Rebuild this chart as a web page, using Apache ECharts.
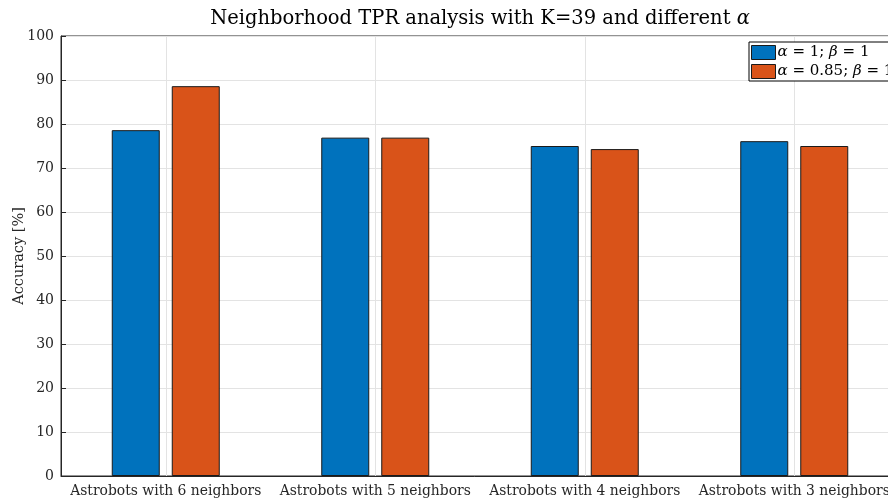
<!DOCTYPE html>
<html>
<head>
<meta charset="utf-8">
<script src="https://cdn.jsdelivr.net/npm/echarts@6/dist/echarts.min.js"></script>
<style>html,body{margin:0;padding:0;background:#fff}#c{width:888px;height:500px}</style>
</head>
<body>
<div id="c"></div>
<script>
const categories = ['Astrobots with 6 neighbors', 'Astrobots with 5 neighbors', 'Astrobots with 4 neighbors', 'Astrobots with 3 neighbors'];
const seriesNames = ['α = 1; β = 1', 'α = 0.85; β = 1'];
const legendRich = ['{i|α} = 1; {i|β} = 1', '{i|α} = 0.85; {i|β} = 1'];
const alpha1 = [78.6, 76.9, 75.0, 76.1];
const alpha085 = [88.6, 76.9, 74.3, 75.0];
const yTicks = [0, 10, 20, 30, 40, 50, 60, 70, 80, 90, 100];

const FONT = 'DejaVu Serif';
const chart = echarts.init(document.getElementById('c'), null, {renderer: 'canvas'});
chart.setOption({
  animation: false,
  backgroundColor: '#fff',
  title: {
    text: '{n|Neighborhood TPR analysis with K=39 and different }{i|α}',
    left: 475, textAlign: 'center', top: 4,
    textStyle: {
      fontWeight: 'normal',
      rich: {
        n: {fontFamily: FONT, fontSize: 19.5, color: '#000', fontWeight: 'normal'},
        i: {fontFamily: FONT, fontSize: 19.5, color: '#000', fontStyle: 'italic', fontWeight: 'normal'}
      }
    }
  },
  legend: {
    left: 749, top: 42, orient: 'vertical',
    backgroundColor: '#fff', borderColor: '#000', borderWidth: 1, borderRadius: 0,
    padding: [3, 4, 2, 2], itemGap: 4, itemWidth: 24, itemHeight: 14,
    icon: 'rect',
    itemStyle: {borderColor: '#1a1a1a', borderWidth: 1},
    formatter: function (name) { return legendRich[seriesNames.indexOf(name)]; },
    textStyle: {
      fontFamily: FONT, fontSize: 15, color: '#000', padding: [0, 0, 0, -3],
      rich: {i: {fontFamily: FONT, fontSize: 15, color: '#000', fontStyle: 'italic'}}
    },
    data: seriesNames
  },
  grid: {
    left: 61, top: 36, width: 838, height: 440,
    outerBoundsMode: 'none', containLabel: false,
    show: true, borderColor: '#262626', borderWidth: 1, backgroundColor: 'transparent'
  },
  xAxis: {
    type: 'category', data: categories,
    axisLine: {lineStyle: {color: '#262626', width: 1}},
    axisTick: {inside: true, alignWithLabel: true, length: 5, lineStyle: {color: '#262626'}},
    axisLabel: {fontFamily: FONT, fontSize: 13.9, color: '#262626', margin: 8, interval: 0, hideOverlap: false},
    splitLine: {show: true, alignWithLabel: true, lineStyle: {color: '#e3e3e3', width: 1}}
  },
  yAxis: {
    type: 'value', min: yTicks[0], max: yTicks[yTicks.length - 1], interval: 10,
    name: 'Accuracy [%]', nameLocation: 'middle', nameGap: 34, nameMoveOverlap: false,
    nameTextStyle: {fontFamily: FONT, fontSize: 14.5, color: '#262626'},
    axisLine: {show: true, lineStyle: {color: '#262626', width: 1}},
    axisTick: {show: true, inside: true, length: 5, lineStyle: {color: '#262626'}},
    axisLabel: {fontFamily: FONT, fontSize: 14, color: '#262626', margin: 7},
    splitLine: {show: true, lineStyle: {color: '#e3e3e3', width: 1}}
  },
  series: [
    {
      name: seriesNames[0], type: 'bar', data: alpha1, barWidth: 48, barGap: '25%',
      itemStyle: {color: '#0072BD', borderColor: '#1a1a1a', borderWidth: 1}
    },
    {
      name: seriesNames[1], type: 'bar', data: alpha085, barWidth: 48, barGap: '25%',
      itemStyle: {color: '#D95319', borderColor: '#1a1a1a', borderWidth: 1}
    }
  ]
});
</script>
</body>
</html>
